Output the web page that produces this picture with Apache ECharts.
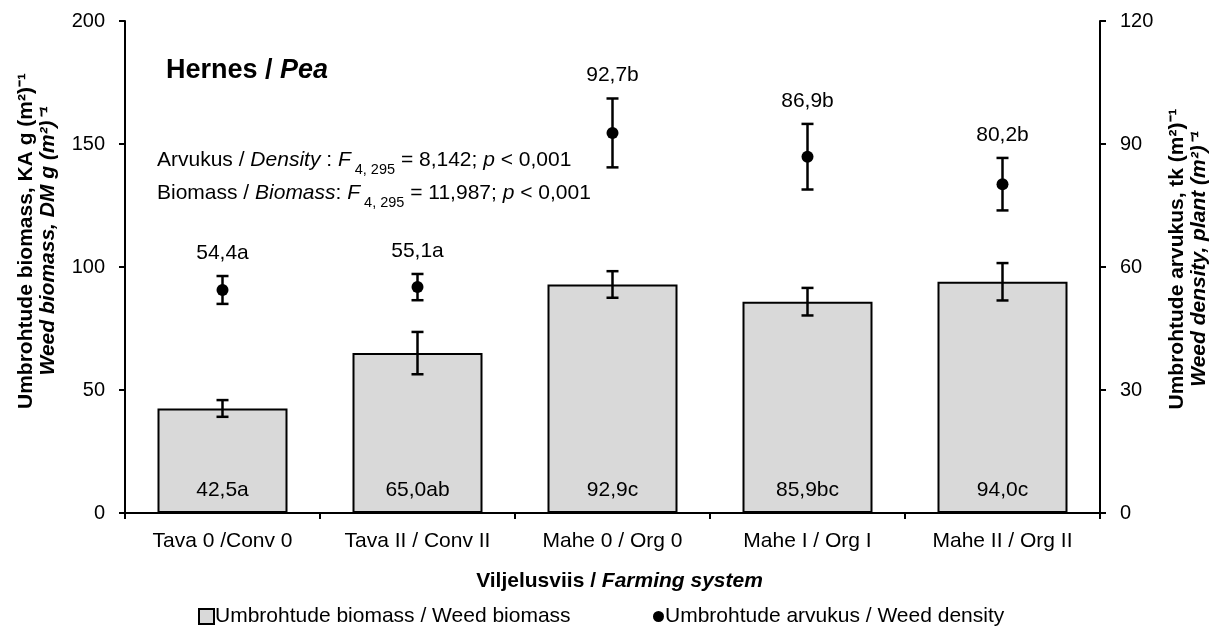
<!DOCTYPE html>
<html>
<head>
<meta charset="utf-8">
<script src="https://cdn.jsdelivr.net/npm/echarts@6/dist/echarts.min.js"></script>
<style>html,body{margin:0;padding:0;background:#fff}#c{width:1210px;height:626px}</style>
</head>
<body>
<div id="c"></div>
<script>
const categories = ['Tava 0 /Conv 0', 'Tava II / Conv II', 'Mahe 0 / Org 0', 'Mahe I / Org I', 'Mahe II / Org II'];
const biomass = [42.5, 65.0, 92.9, 85.9, 94.0];
const biomassErr = [3.4, 8.6, 5.4, 5.6, 7.6];
const biomassLetters = ['a', 'ab', 'c', 'bc', 'c'];
const density = [54.4, 55.1, 92.7, 86.9, 80.2];
const densityErr = [3.4, 3.2, 8.4, 8.0, 6.4];
const densityLetters = ['a', 'a', 'b', 'b', 'b'];
const leftTicks = {min: 0, max: 200, interval: 50};
const rightTicks = {min: 0, max: 120, interval: 30};

const FONT = '"Liberation Sans", Arial, sans-serif';
const fmt = v => v.toFixed(1).replace('.', ',');
const chart = echarts.init(document.getElementById('c'), null, {renderer: 'canvas'});

function errItem(labels) {
  return function (params, api) {
    const x = api.value(0), m = api.value(1), e = api.value(2);
    const top = api.coord([x, m + e]);
    const bot = api.coord([x, m - e]);
    const cap = 6;
    const st = {stroke: '#000', lineWidth: 2.5};
    const children = [
      {type: 'line', shape: {x1: top[0], y1: top[1], x2: bot[0], y2: bot[1]}, style: st},
      {type: 'line', shape: {x1: top[0] - cap, y1: top[1], x2: top[0] + cap, y2: top[1]}, style: st},
      {type: 'line', shape: {x1: bot[0] - cap, y1: bot[1], x2: bot[0] + cap, y2: bot[1]}, style: st}
    ];
    if (labels) {
      children.push({type: 'text', style: {x: top[0], y: top[1] - 23, text: fmt(m) + labels[params.dataIndex],
        fill: '#000', font: '21px ' + FONT, align: 'center', verticalAlign: 'middle'}});
    }
    return {type: 'group', children: children};
  };
}

const axisLine = {show: true, lineStyle: {color: '#000', width: 2}};
const tick = {show: true, length: 6, lineStyle: {color: '#000', width: 2}};
const nameRich = {
  b: {fontWeight: 'bold', fontSize: 21, lineHeight: 22, fontFamily: FONT},
  bi: {fontWeight: 'bold', fontStyle: 'italic', fontSize: 21, lineHeight: 22, fontFamily: FONT}
};
const annRich = {
  n: {fontSize: 21, fontFamily: FONT, verticalAlign: 'bottom', lineHeight: 26},
  i: {fontSize: 21, fontStyle: 'italic', fontFamily: FONT, verticalAlign: 'bottom', lineHeight: 26},
  s: {fontSize: 14.5, fontFamily: FONT, verticalAlign: 'bottom', lineHeight: 20, padding: [0, 0, -6, 0]}
};
const option = {
  animation: false,
  textStyle: {fontFamily: FONT, color: '#000'},
  grid: {left: 125, right: 110, top: 21, bottom: 113, outerBoundsMode: 'none', containLabel: false},
  legend: [
    {
      data: ['Umbrohtude biomass / Weed biomass'],
      left: 193, top: 601, itemWidth: 15, itemHeight: 15, icon: 'rect',
      textStyle: {fontSize: 21, color: '#000', fontFamily: FONT, padding: [0, 0, 0, -4]}
    },
    {
      data: ['Umbrohtude arvukus / Weed density'],
      left: 648, top: 601, itemWidth: 11, itemHeight: 11, icon: 'circle',
      textStyle: {fontSize: 21, color: '#000', fontFamily: FONT, padding: [0, 0, 0, -4]}
    }
  ],
  xAxis: {
    type: 'category', data: categories,
    axisLine: axisLine, axisTick: tick,
    axisLabel: {color: '#000', fontSize: 21, margin: 18, fontFamily: FONT},
    name: '{b|Viljelusviis / }{bi|Farming system}',
    nameLocation: 'middle', nameGap: 57,
    nameTextStyle: {rich: nameRich, padding: [0, 0, 0, 14]}
  },
  yAxis: [
    {
      type: 'value', min: leftTicks.min, max: leftTicks.max, interval: leftTicks.interval,
      splitLine: {show: false}, axisLine: axisLine, axisTick: tick,
      axisLabel: {color: '#000', fontSize: 20, margin: 20, fontFamily: FONT},
      name: '{b|Umbrohtude biomass, KA g (m²)⁻¹}\n{bi|Weed biomass, DM g (m²)⁻¹}',
      nameLocation: 'middle', nameRotate: 90, nameGap: 66,
      nameTextStyle: {rich: nameRich, padding: [0, 0, 0, 52]}
    },
    {
      type: 'value', min: rightTicks.min, max: rightTicks.max, interval: rightTicks.interval,
      splitLine: {show: false}, axisLine: axisLine, axisTick: tick,
      axisLabel: {color: '#000', fontSize: 20, margin: 20, fontFamily: FONT},
      name: '{b|Umbrohtude arvukus, tk (m²)⁻¹}\n{bi|Weed density, plant (m²)⁻¹}',
      nameLocation: 'middle', nameRotate: 90, nameGap: 66,
      nameTextStyle: {rich: nameRich, padding: [0, 0, 0, 16]}
    }
  ],
  series: [
    {
      name: 'Umbrohtude biomass / Weed biomass', type: 'bar', yAxisIndex: 0, barWidth: 130,
      data: biomass,
      itemStyle: {color: '#d9d9d9', borderColor: '#000', borderWidth: 2},
      label: {show: true, position: 'insideBottom', distance: 12, color: '#000', fontSize: 21, fontFamily: FONT,
        formatter: p => fmt(p.value) + biomassLetters[p.dataIndex]}
    },
    {
      type: 'custom', yAxisIndex: 0, z: 5,
      data: biomass.map((v, i) => [i, v, biomassErr[i]]),
      encode: {x: 0, y: 1},
      renderItem: errItem(null)
    },
    {
      type: 'custom', yAxisIndex: 1, z: 5,
      data: density.map((v, i) => [i, v, densityErr[i]]),
      encode: {x: 0, y: 1},
      renderItem: errItem(densityLetters)
    },
    {
      name: 'Umbrohtude arvukus / Weed density', type: 'scatter', yAxisIndex: 1, z: 6,
      data: density, symbol: 'circle', symbolSize: 12,
      itemStyle: {color: '#000', opacity: 1}
    }
  ],
  graphic: [
    {type: 'text', left: 166, top: 57, style: {
      text: '{b|Hernes / }{bi|Pea}', fill: '#000',
      rich: {b: {fontWeight: 'bold', fontSize: 27, fontFamily: FONT}, bi: {fontWeight: 'bold', fontStyle: 'italic', fontSize: 27, fontFamily: FONT}}
    }},
    {type: 'text', left: 157, top: 150, style: {
      text: '{n|Arvukus / }{i|Density}{n| : }{i|F}{s| 4, 295}{n| = 8,142; }{i|p}{n| < 0,001}', fill: '#000', rich: annRich
    }},
    {type: 'text', left: 157, top: 183, style: {
      text: '{n|Biomass / }{i|Biomass}{n|: }{i|F}{s| 4, 295}{n| = 11,987; }{i|p}{n| < 0,001}', fill: '#000', rich: annRich
    }}
  ]
};
chart.setOption(option);
</script>
</body>
</html>
